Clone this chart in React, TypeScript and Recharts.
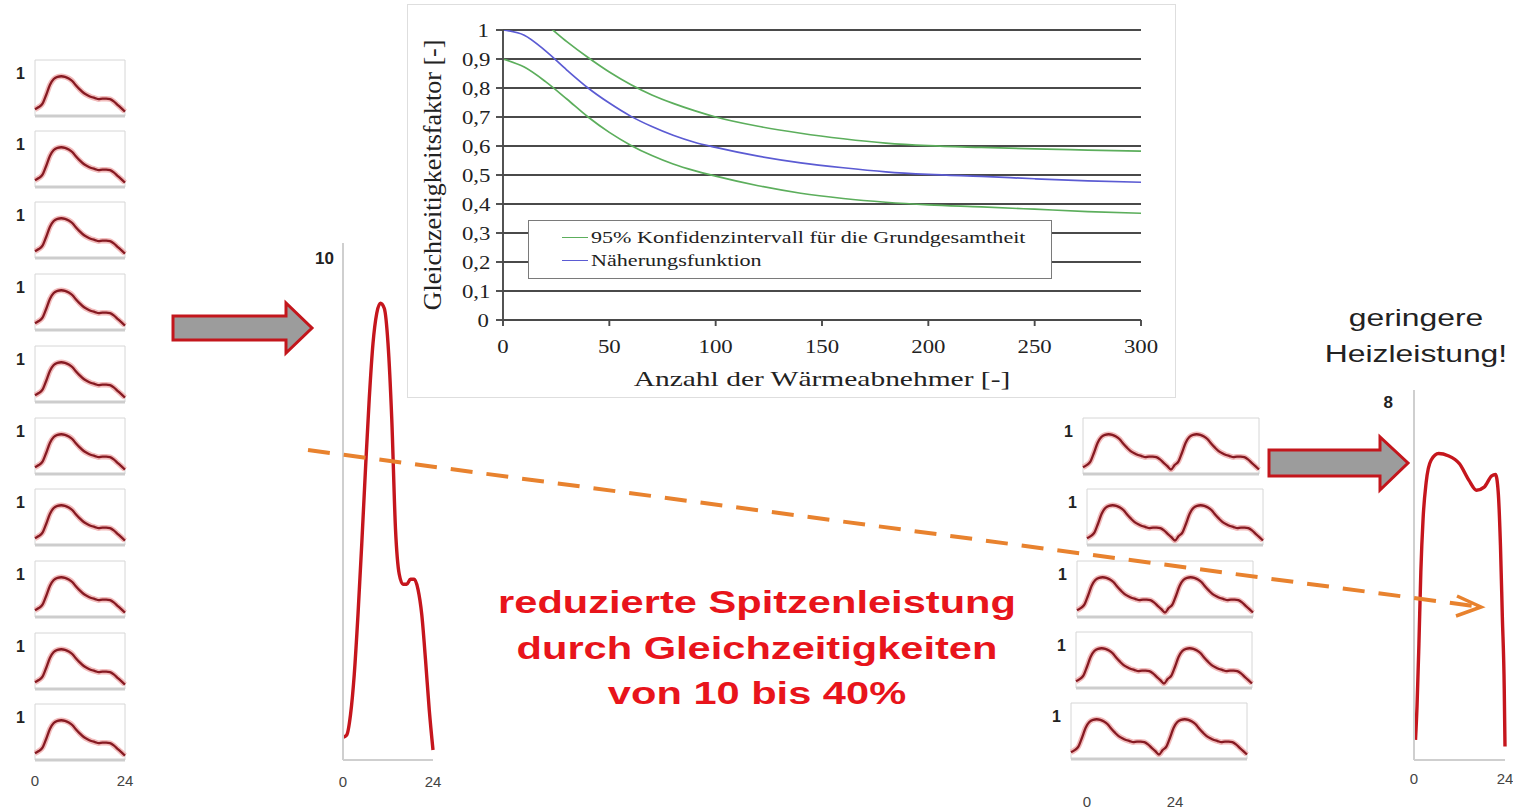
import React from "react";
import {
  LineChart,
  Line,
  XAxis,
  YAxis,
  CartesianGrid,
  Legend,
  Label,
  ReferenceArea,
  ReferenceLine,
} from "recharts";

// --- Gleichzeitigkeitsfaktor über Anzahl der Wärmeabnehmer ---
const anzahl = [0, 10, 20, 30, 40, 50, 60, 70, 80, 90, 100, 120, 140, 160, 180, 200, 225, 250, 275, 300];
const konfidenzOben = [1.12, 1.07, 1.02, 0.96, 0.905, 0.855, 0.812, 0.776, 0.747, 0.722, 0.7, 0.668, 0.644, 0.625, 0.61, 0.601, 0.595, 0.59, 0.586, 0.582];
const naeherung = [1.0, 0.982, 0.928, 0.862, 0.8, 0.748, 0.703, 0.667, 0.637, 0.613, 0.595, 0.565, 0.542, 0.525, 0.511, 0.502, 0.495, 0.487, 0.48, 0.475];
const konfidenzUnten = [0.9, 0.872, 0.822, 0.762, 0.7, 0.647, 0.603, 0.567, 0.538, 0.515, 0.496, 0.463, 0.437, 0.419, 0.406, 0.397, 0.39, 0.382, 0.374, 0.368];
const xTicks = [0, 50, 100, 150, 200, 250, 300];
const yTicks = [0, 0.1, 0.2, 0.3, 0.4, 0.5, 0.6, 0.7, 0.8, 0.9, 1];

// --- Tageslastgänge (0..24 h) ---
const stunden = [0, 1, 2, 3, 4, 5, 6, 7, 8, 9, 10, 11, 12, 13, 14, 15, 16, 17, 18, 19, 20, 21, 22, 23, 24];
const einzelprofil = [0.12, 0.16, 0.22, 0.38, 0.56, 0.66, 0.7, 0.71, 0.7, 0.67, 0.62, 0.54, 0.47, 0.41, 0.37, 0.34, 0.32, 0.3, 0.31, 0.31, 0.3, 0.26, 0.2, 0.14, 0.08];
const summenprofil = [0.45, 0.5, 0.9, 1.7, 2.9, 4.3, 5.8, 7.2, 8.3, 8.9, 9.1, 9.0, 8.3, 6.8, 4.6, 3.7, 3.5, 3.5, 3.6, 3.6, 3.4, 2.9, 2.0, 1.0, 0.2];
const reduziertStunden = [0.4, 0.8, 1.3, 1.8, 2.4, 3.2, 4.5, 6.5, 9, 12, 14.5, 16.5, 18.5, 20.5, 21.5, 22.2, 22.8, 23.3, 23.8, 24];
const reduziertesProfil = [0.45, 1.2, 2.6, 4.2, 5.4, 6.2, 6.7, 6.85, 6.8, 6.62, 6.25, 6.03, 6.1, 6.35, 6.38, 6.0, 4.8, 3.2, 1.6, 0.3];

const GREEN = "#5cae5c";
const BLUE = "#5b5bd3";
const RED = "#c5161d";
const DARKRED = "#861a22";
const SANS = "'Liberation Sans', Arial, sans-serif";
const SERIF = "'Liberation Serif', 'Times New Roman', serif";

const gzfDaten = anzahl.map((n, i) => ({
  n,
  oben: konfidenzOben[i],
  naeh: naeherung[i],
  unten: konfidenzUnten[i],
}));
const eintag = stunden.map((h, i) => ({ h, v: einzelprofil[i] }));
const zweiTage = [
  ...eintag,
  ...eintag.slice(1).map((p) => ({ h: p.h + 24, v: p.v })),
];
const summe = stunden.map((h, i) => ({ h, v: summenprofil[i] }));
const reduziert = reduziertStunden.map((h, i) => ({ h, v: reduziertesProfil[i] }));

const legendEintraege = [
  { name: "95% Konfidenzintervall für die Grundgesamtheit", color: GREEN },
  { name: "Näherungsfunktion", color: BLUE },
];

const stretch = (f: number): React.CSSProperties => ({
  transform: `scaleX(${f})`,
  transformBox: "fill-box",
  transformOrigin: "center",
});

const komma = (v: number) => String(v).replace(".", ",");

function GzfLegend() {
  return (
    <div
      style={{
        width: 524,
        height: 59,
        boxSizing: "border-box",
        border: "1.5px solid #7a7a7a",
        background: "#fff",
        padding: "5px 0 0 33px",
        fontFamily: SERIF,
        fontSize: 17,
        color: "#222",
      }}
    >
      {legendEintraege.map((e) => (
        <div key={e.name} style={{ display: "flex", alignItems: "center", height: 23 }}>
          <span style={{ width: 26, borderTop: `1.6px solid ${e.color}`, marginRight: 3 }} />
          <span
            style={{
              display: "inline-block",
              whiteSpace: "nowrap",
              transform: "scaleX(1.3)",
              transformOrigin: "left center",
            }}
          >
            {e.name}
          </span>
        </div>
      ))}
    </div>
  );
}

function GzfChart() {
  return (
    <div
      style={{
        position: "absolute",
        left: 407,
        top: 4,
        width: 767,
        height: 392,
        border: "1px solid #dedede",
        background: "#fff",
      }}
    >
      <LineChart width={767} height={392} data={gzfDaten} margin={{ top: 25, right: 34, bottom: 7, left: 15 }}>
        <CartesianGrid vertical={false} stroke="#4a4a4a" strokeWidth={1.9} />
        <XAxis
          dataKey="n"
          type="number"
          domain={[0, 300]}
          ticks={xTicks}
          height={70}
          stroke="#4a4a4a"
          strokeWidth={1.9}
          tickSize={6}
          tickMargin={14}
          tick={{ fontSize: 19, fill: "#222", fontFamily: SERIF, style: stretch(1.2) }}
        >
          <Label
            value="Anzahl der Wärmeabnehmer [-]"
            position="insideBottom"
            offset={4}
            style={{ fontSize: 22, fill: "#222", fontFamily: SERIF, ...stretch(1.34) }}
          />
        </XAxis>
        <YAxis
          type="number"
          domain={[0, 1]}
          ticks={yTicks}
          allowDataOverflow
          width={80}
          stroke="#4a4a4a"
          strokeWidth={1.9}
          tickSize={7}
          tickMargin={8}
          tickFormatter={komma}
          tick={{ fontSize: 19, fill: "#222", fontFamily: SERIF, style: stretch(1.2) }}
        >
          <Label
            value="Gleichzeitigkeitsfaktor [-]"
            angle={-90}
            position="insideLeft"
            offset={9}
            style={{ textAnchor: "middle", fontSize: 26, fill: "#222", fontFamily: SERIF }}
          />
        </YAxis>
        <Legend
          layout="horizontal"
          verticalAlign="middle"
          align="center"
          wrapperStyle={{ left: 120, top: 215, width: 524, height: 59 }}
          content={() => <GzfLegend />}
        />
        <Line dataKey="oben" type="monotone" stroke={GREEN} strokeWidth={1.7} dot={false} isAnimationActive={false} />
        <Line dataKey="unten" type="monotone" stroke={GREEN} strokeWidth={1.7} dot={false} isAnimationActive={false} />
        <Line dataKey="naeh" type="monotone" stroke={BLUE} strokeWidth={1.7} dot={false} isAnimationActive={false} />
      </LineChart>
    </div>
  );
}

interface LastgangProps {
  data: { h: number; v: number }[];
  left: number;
  top: number;
  span: number;
  plotW: number;
  showHours?: boolean;
}

function Lastgang({ data, left, top, span, plotW, showHours = false }: LastgangProps) {
  const yW = 35;
  const rightPad = 14;
  const plotH = 56;
  const axisH = showHours ? 38 : 4;
  return (
    <div style={{ position: "absolute", left: left - yW, top: top - 1 }}>
      <LineChart
        width={yW + plotW + rightPad}
        height={1 + plotH + axisH}
        data={data}
        margin={{ top: 1, right: rightPad, bottom: 0, left: 0 }}
      >
        <ReferenceArea x1={0} x2={span} y1={0} y2={1} fill="#fff" fillOpacity={1} stroke="#d6d6d6" strokeWidth={1} />
        <XAxis
          dataKey="h"
          type="number"
          domain={[0, span]}
          ticks={[0, span]}
          interval={0}
          height={axisH}
          axisLine={{ stroke: "#cdcdcd", strokeWidth: 3 }}
          tickLine={false}
          tickSize={6}
          tickMargin={9}
          tick={showHours ? { fontSize: 15, fill: "#444", fontFamily: SANS } : false}
        />
        <YAxis
          type="number"
          domain={[0, 1]}
          ticks={[1]}
          interval={0}
          width={yW}
          axisLine={false}
          tickLine={false}
          tickMargin={4}
          tick={{ fontSize: 16, fontWeight: 700, fill: "#222", fontFamily: SANS, dy: 13 }}
        />
        <Line dataKey="v" type="monotone" stroke="#f2bcbc" strokeWidth={5.5} dot={false} isAnimationActive={false} />
        <Line dataKey="v" type="monotone" stroke={DARKRED} strokeWidth={2.3} dot={false} isAnimationActive={false} />
      </LineChart>
    </div>
  );
}

interface SummeProps {
  data: { h: number; v: number }[];
  plotLeft: number;
  plotTop: number;
  plotW: number;
  plotH: number;
  yMax: number;
  yTick: number;
  labelGap: number;
  hourGap: number;
}

function Summenlastgang({ data, plotLeft, plotTop, plotW, plotH, yMax, yTick, labelGap, hourGap }: SummeProps) {
  const yW = 40;
  const rightPad = 14;
  const axisH = 36;
  return (
    <div style={{ position: "absolute", left: plotLeft - yW, top: plotTop - 1 }}>
      <LineChart
        width={yW + plotW + rightPad}
        height={1 + plotH + axisH}
        data={data}
        margin={{ top: 1, right: rightPad, bottom: 0, left: 0 }}
      >
        <XAxis
          dataKey="h"
          type="number"
          domain={[0, 24]}
          ticks={[0, 24]}
          interval={0}
          height={axisH}
          axisLine={{ stroke: "#cfcfcf", strokeWidth: 2 }}
          tickLine={false}
          tickSize={6}
          tickMargin={hourGap}
          tick={{ fontSize: 15, fill: "#444", fontFamily: SANS }}
        />
        <YAxis
          type="number"
          domain={[0, yMax]}
          ticks={[yTick]}
          interval={0}
          allowDataOverflow
          width={yW}
          axisLine={{ stroke: "#cfcfcf", strokeWidth: 2 }}
          tickLine={false}
          tickSize={6}
          tickMargin={labelGap - 6}
          tick={{ fontSize: 17, fontWeight: 700, fill: "#222", fontFamily: SANS }}
        />
        <Line dataKey="v" type="monotone" stroke={RED} strokeWidth={3.4} dot={false} isAnimationActive={false} />
      </LineChart>
    </div>
  );
}

// vertical day markers over the two-day profiles
function Tagesmarken() {
  const pad = 20;
  return (
    <div style={{ position: "absolute", left: 1087 - pad, top: 308 }}>
      <LineChart
        width={pad + 88 + pad}
        height={484 + 22}
        data={[{ h: 0 }, { h: 24 }]}
        margin={{ top: 0, right: pad, bottom: 0, left: pad }}
      >
        <XAxis
          dataKey="h"
          type="number"
          domain={[0, 24]}
          ticks={[0, 24]}
          interval={0}
          height={22}
          axisLine={false}
          tickLine={false}
          tickSize={0}
          tickMargin={4}
          tick={{ fontSize: 15, fill: "#444", fontFamily: SANS }}
        />
        <YAxis hide domain={[0, 1]} />
        <ReferenceLine x={0} stroke="#111" strokeWidth={2} strokeDasharray="4 2" ifOverflow="visible" />
        <ReferenceLine x={24} stroke="#222" strokeWidth={1.4} strokeDasharray="1.5 1.5" ifOverflow="visible" />
      </LineChart>
    </div>
  );
}

const linksTops = [60, 131, 202, 274, 346, 418, 489, 561, 633, 704];
const rechtsReihen = [
  { left: 1083, top: 418 },
  { left: 1087, top: 489 },
  { left: 1077, top: 561 },
  { left: 1076, top: 632 },
  { left: 1071, top: 703 },
];

export default function App() {
  return (
    <div
      style={{
        position: "relative",
        width: 1513,
        height: 809,
        overflow: "hidden",
        background: "#fff",
      }}
    >
      <style>{"body{margin:0}"}</style>

      <GzfChart />

      {linksTops.map((t, i) => (
        <Lastgang
          key={"l" + i}
          data={eintag}
          left={35}
          top={t}
          span={24}
          plotW={90}
          showHours={i === linksTops.length - 1}
        />
      ))}

      <Summenlastgang
        data={summe}
        plotLeft={343}
        plotTop={243}
        plotW={90}
        plotH={517}
        yMax={10.3}
        yTick={10}
        labelGap={9}
        hourGap={10}
      />

      {rechtsReihen.map((r, i) => (
        <Lastgang key={"r" + i} data={zweiTage} left={r.left} top={r.top} span={48} plotW={176} />
      ))}

      <Tagesmarken />

      <Summenlastgang
        data={reduziert}
        plotLeft={1414}
        plotTop={390}
        plotW={91}
        plotH={370}
        yMax={8.27}
        yTick={8}
        labelGap={21}
        hourGap={7}
      />

      <div
        style={{
          position: "absolute",
          left: 557,
          top: 580,
          width: 400,
          textAlign: "center",
          fontFamily: SANS,
          fontWeight: 700,
          fontSize: 32,
          lineHeight: "45.5px",
          color: "#e8141b",
          whiteSpace: "nowrap",
          transform: "scaleX(1.3)",
        }}
      >
        reduzierte Spitzenleistung
        <br />
        durch Gleichzeitigkeiten
        <br />
        von 10 bis 40%
      </div>

      <div
        style={{
          position: "absolute",
          left: 1316,
          top: 300,
          width: 200,
          textAlign: "center",
          fontFamily: SANS,
          fontSize: 24.5,
          lineHeight: "36px",
          color: "#222",
          whiteSpace: "nowrap",
          transform: "scaleX(1.3)",
        }}
      >
        geringere
        <br />
        Heizleistung!
      </div>

      <svg
        width={1513}
        height={809}
        style={{ position: "absolute", left: 0, top: 0, pointerEvents: "none" }}
      >
        <polygon
          points="173,316 286,316 286,303 312,328 286,353 286,340 173,340"
          fill="#9c9c9c"
          stroke="#c3161c"
          strokeWidth={3}
        />
        <polygon
          points="1269,450 1380,450 1380,437 1408,463 1380,490 1380,476 1269,476"
          fill="#9c9c9c"
          stroke="#c3161c"
          strokeWidth={3}
        />
        <line x1={308} y1={450} x2={1474} y2={606} stroke="#e8822e" strokeWidth={4} strokeDasharray="22 14" />
        <polyline points="1457,596 1481,607 1456,616" fill="none" stroke="#e8822e" strokeWidth={3.5} />
      </svg>
    </div>
  );
}
